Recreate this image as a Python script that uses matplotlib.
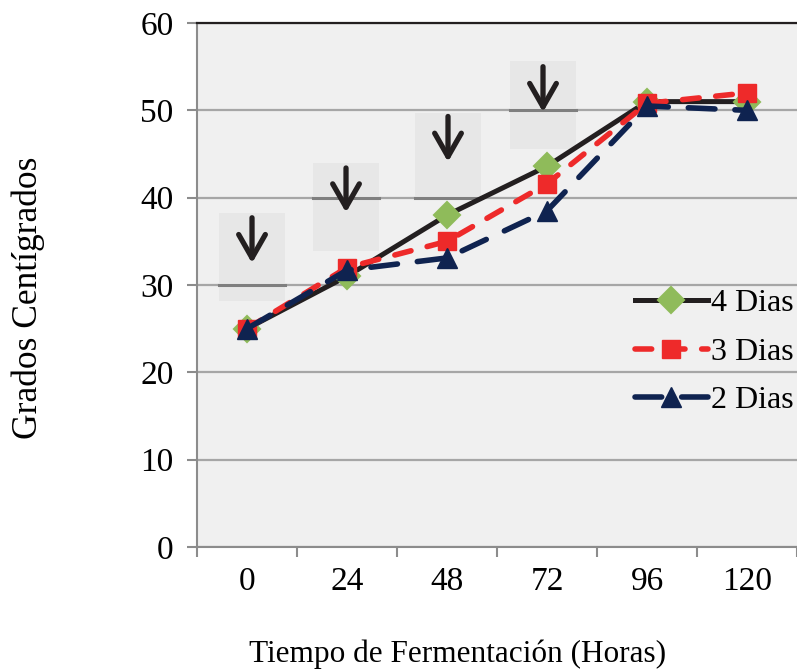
import matplotlib

matplotlib.use("Agg")
import matplotlib.pyplot as plt
from matplotlib.patches import Rectangle
import numpy as np

plt.rcParams["font.family"] = ["Liberation Serif", "DejaVu Serif"]

# data
horas = ["0", "24", "48", "72", "96", "120"]
dias4 = [25.0, 31.0, 38.0, 43.6, 51.0, 51.0]
dias3 = [25.0, 32.0, 35.0, 41.6, 50.8, 52.0]
dias2 = [25.0, 31.7, 33.1, 38.5, 50.5, 50.0]

# arrow call-outs: category, level line, shaded box (bottom, top), arrow (tail, tip)
flecha_idx = [0, 1, 2, 3]
flecha_nivel = [30, 40, 40, 50]
caja_y = [(28.2, 38.3), (33.9, 44.0), (40.0, 49.7), (45.6, 55.6)]
flecha_y = [(37.7, 32.5), (43.4, 38.3), (49.3, 44.1), (55.0, 49.8)]
flecha_dx = [0.05, -0.01, 0.01, -0.04]

x = np.arange(len(horas))

fig = plt.figure(figsize=(7.97, 6.71), dpi=100)
ax = fig.add_axes([0.2472, 0.1848, 0.7528, 0.7809])
ax.set_facecolor("#f0f0f0")

ax.set_xlim(-0.5, len(horas) - 0.5)
ax.set_ylim(0, 60)
ax.set_yticks(np.arange(0, 61, 10))
ax.yaxis.grid(True, color="#a6a6a6", lw=1.6)
ax.set_axisbelow(True)

# shaded boxes + darker level marks + arrows
for i, lvl, (b0, b1), (a0, a1), dx in zip(flecha_idx, flecha_nivel, caja_y, flecha_y, flecha_dx):
    ax.add_patch(Rectangle((i + dx - 0.33, b0), 0.66, b1 - b0,
                           facecolor="#e7e7e7", edgecolor="none", zorder=1))
    ax.plot([i + dx - 0.33, i + dx + 0.33], [lvl, lvl], color="#7f7f7f", lw=2.2, zorder=2)
    ax.annotate("", xy=(i + dx, a1), xytext=(i + dx, a0),
                arrowprops=dict(arrowstyle="->,head_length=0.42,head_width=0.24",
                                mutation_scale=40, color="#231f20", lw=3.8,
                                shrinkA=0, shrinkB=0), zorder=3)

ax.plot(x, dias4, color="#231f20", lw=3.6, marker="D", ms=13, mew=1.5,
        mfc="#8fbb5a", mec="#8fbb5a", label="4 Dias", zorder=5)
ax.plot(x, dias3, color="#ee2a2a", lw=4, ls=(0, (3.0, 3.0)), dash_capstyle="round",
        marker="s", ms=13, mfc="#ee2a2a", mec="#ee2a2a", label="3 Dias", zorder=6)
ax.plot(x, dias2, color="#0f2350", lw=4, ls=(0, (4.8, 3.6)), dash_capstyle="round",
        marker="^", ms=15, mfc="#0f2350", mec="#0f2350", label="2 Dias", zorder=7)

# categorical axis: labels at centres, tick marks between categories
ax.set_xticks(x)
ax.set_xticklabels(horas, fontsize=24)
ax.tick_params(axis="x", which="major", length=0, pad=14)
ax.set_xticks(np.arange(-0.5, len(horas) - 0.4, 1), minor=True)
ax.tick_params(axis="x", which="minor", length=7, width=1.5, color="#8c8c8c")
ax.tick_params(axis="y", length=7, width=1.5, color="#8c8c8c", labelsize=24, pad=10)

ax.spines["right"].set_visible(False)
ax.spines["top"].set_color("#231f20")
ax.spines["top"].set_linewidth(1.6)
for s in ["left", "bottom"]:
    ax.spines[s].set_color("#8c8c8c")
    ax.spines[s].set_linewidth(1.5)

ax.set_ylabel("Grados Centígrados", fontsize=25.5)
ax.yaxis.set_label_coords(-0.253, 0.475)
ax.set_xlabel("Tiempo de Fermentación (Horas)", fontsize=22.5)
ax.xaxis.set_label_coords(0.435, -0.177)

ax.legend(loc="center right", bbox_to_anchor=(0.995, 0.372), frameon=False,
          fontsize=23, handlelength=2.3, handletextpad=0.1, labelspacing=0.6,
          borderpad=0, borderaxespad=0)

fig.savefig("out.png", dpi=100)
